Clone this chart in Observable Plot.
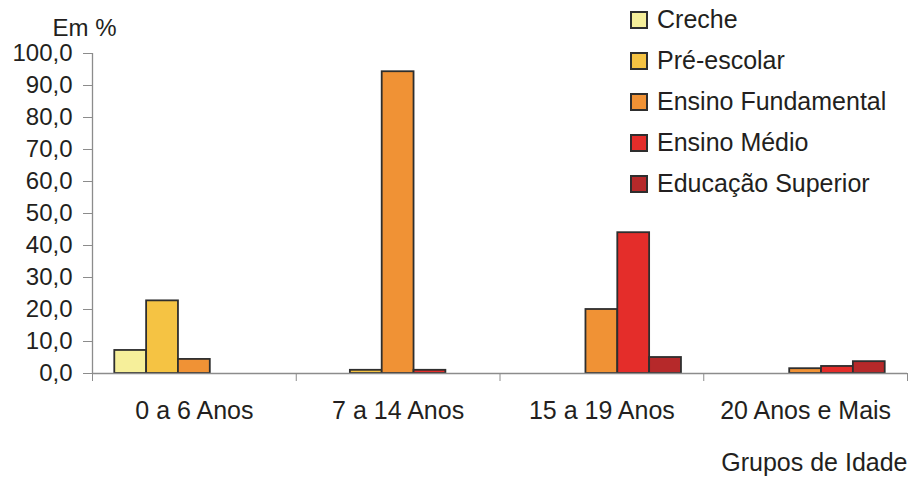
<!DOCTYPE html>
<html>
<head>
<meta charset="utf-8">
<script src="https://cdn.jsdelivr.net/npm/d3@7"></script>
<script src="https://cdn.jsdelivr.net/npm/@observablehq/plot@0.6"></script>
<style>
  html, body { margin: 0; padding: 0; background: #fff; }
  #wrap { position: relative; width: 910px; height: 479px; font-family: "Liberation Sans", Arial, Helvetica, sans-serif; }
  #legend { position: absolute; left: 630px; top: -1px; }
  #legend .edu-swatches { font-family: "Liberation Sans", Arial, Helvetica, sans-serif; font-size: 25px; color: #231f20; margin: 0; }
  #legend .edu-swatch { display: flex; align-items: center; height: 41px; padding: 0; margin: 0; }
  #legend .edu-swatch svg { margin-right: 9px; flex: none; }
</style>
</head>
<body>
<div id="wrap"><div id="chart"></div><div id="legend"></div></div>
<script>
// Age groups (categories) and the enrolment level of each series
const groups = ["0 a 6 Anos", "7 a 14 Anos", "15 a 19 Anos", "20 Anos e Mais"];
const series = ["Creche", "Pré-escolar", "Ensino Fundamental", "Ensino Médio", "Educação Superior"];

// Share of each age group attending each level (%)
const creche      = [7.2, 0, 0, 0];
const preEscolar  = [22.7, 1.0, 0, 0];
const fundamental = [4.4, 94.3, 20.0, 1.5];
const medio       = [0, 1.0, 44.0, 2.2];
const superior    = [0, 0, 5.0, 3.7];

const yTicks = [0, 10, 20, 30, 40, 50, 60, 70, 80, 90, 100];
const colors = ["#f6ef9a", "#f5c343", "#f09235", "#e42d2a", "#b6292a"];
const yTitle = "Em %";
const xTitle = "Grupos de Idade";

const values = [creche, preEscolar, fundamental, medio, superior];
const rows = [];
values.forEach((vals, si) => vals.forEach((value, gi) => {
  rows.push({group: groups[gi], gi, series: series[si], si, value});
}));

// Clustered layout: every group holds one slot per series, with an outer gap on each side
const gap = 0.7;
const slot = 1 / (series.length + 2 * gap);
const left = d => d.gi + (gap + d.si) * slot;

const font = "\"Liberation Sans\", Arial, Helvetica, sans-serif";
const ink = "#231f20";
const axisGray = "#8c8c8c";

const chart = Plot.plot({
  width: 910,
  height: 479,
  marginLeft: 92,
  marginRight: 3,
  marginTop: 53,
  marginBottom: 106,
  style: {fontFamily: font, color: ink, background: "#fff", overflow: "visible"},
  x: {type: "linear", domain: [0, groups.length], axis: null},
  y: {domain: [0, 100], axis: null},
  color: {domain: series, range: colors},
  marks: [
    Plot.ruleX([0], {stroke: axisGray, strokeWidth: 1.3}),
    Plot.axisY({ticks: yTicks, tickSize: 9, tickPadding: 11, stroke: axisGray, fill: ink,
      fontSize: 24, label: null, tickFormat: d => d.toFixed(1).replace(".", ",")}),
    Plot.rectY(rows.filter(d => d.value > 0), {
      x1: left, x2: d => left(d) + slot, y: "value",
      fill: "series", stroke: "#2e2e2e", strokeWidth: 1.8
    }),
    Plot.ruleY([0], {stroke: axisGray, strokeWidth: 1.3}),
    Plot.axisX(d3.range(groups.length + 1), {tickSize: 8, stroke: axisGray, tickFormat: () => "", label: null}),
    Plot.axisX(groups.map((g, i) => i + 0.5), {tickSize: 0, tickPadding: 28, fill: ink, fontSize: 25,
      label: null, tickFormat: d => groups[Math.floor(d)]}),
    Plot.text([yTitle], {frameAnchor: "top-left", textAnchor: "start", dx: -40, dy: -35, fontSize: 24, fill: ink}),
    Plot.text([xTitle], {frameAnchor: "bottom-right", textAnchor: "end", dx: 0, dy: 97, fontSize: 25, fill: ink})
  ]
});
document.getElementById("chart").appendChild(chart);

const legend = Plot.legend({
  color: {domain: series, range: colors},
  columns: 1,
  swatchSize: 18,
  className: "edu"
});
document.getElementById("legend").appendChild(legend);
d3.select(legend).selectAll("svg rect")
  .attr("x", 1).attr("y", 1).attr("width", 16).attr("height", 16)
  .attr("stroke", "#2e2e2e").attr("stroke-width", 2);
</script>
</body>
</html>
